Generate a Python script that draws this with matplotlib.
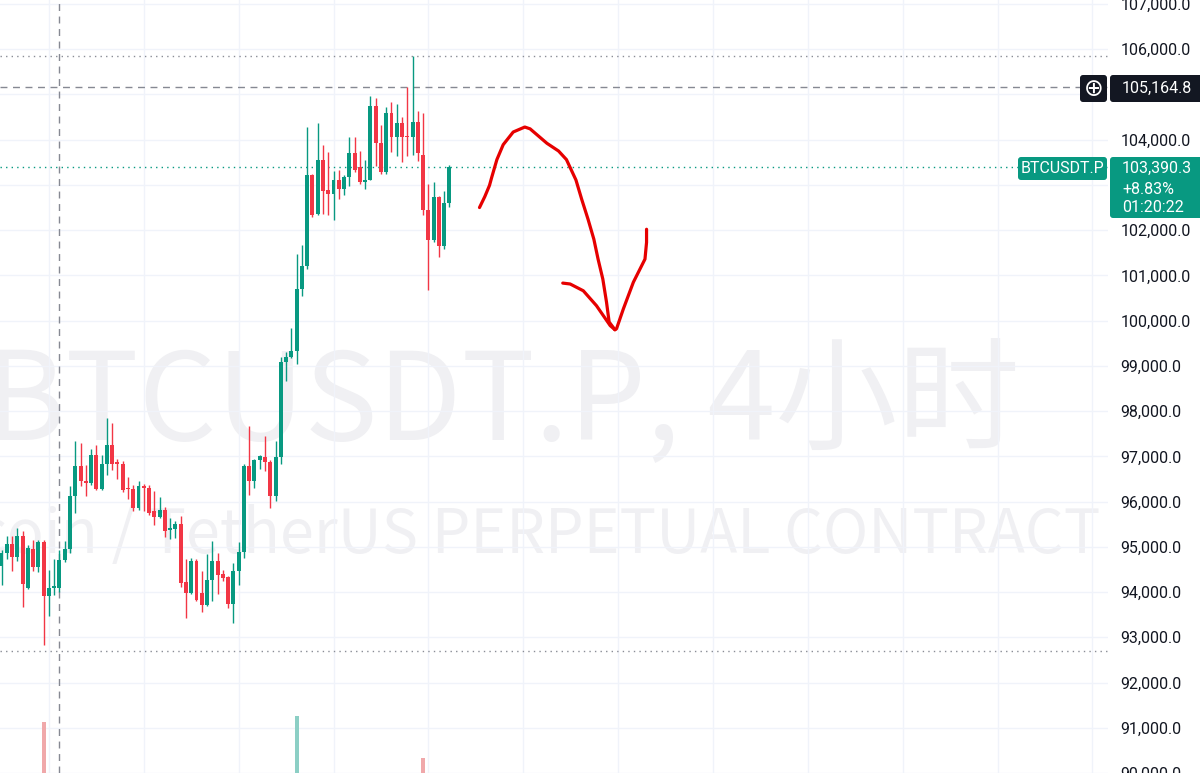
import numpy as np
import matplotlib
matplotlib.use('Agg')
import matplotlib.pyplot as plt
from matplotlib.patches import FancyBboxPatch
from matplotlib.transforms import IdentityTransform

# BTCUSDT.P 4h candles
opens = [94580, 94860, 95060, 94770, 95240, 94090, 94950, 94550, 95100, 93910,
         94090, 94090, 94710, 94950, 96120, 96780, 96450, 96400, 97020, 96270,
         96840, 97240, 96870, 96820, 96290, 96270, 95850, 96340, 96290, 95790,
         95650, 95810, 95370, 95390, 95500, 94220, 93980, 94690, 93980, 93720,
         94270, 94690, 94400, 94330, 93740, 94470, 94880, 96780, 96450, 96910,
         96980, 96870, 96120, 96980, 99090, 99200, 99330, 100700, 101210, 103210,
         102350, 103560, 102880, 102810, 103120, 102920, 103170, 103700, 103390, 103060,
         103120, 104750, 103920, 103280, 104600, 104070, 104360, 104070, 104050, 104400,
         103670, 102440, 101780, 102730, 101650, 102590]
highs = [94930, 95240, 95240, 95410, 95350, 95040, 95150, 95150, 95150, 94490,
         94730, 94930, 95130, 96340, 97350, 97290, 96800, 97170, 97240, 97020,
         97840, 97730, 96950, 96890, 96540, 96360, 96450, 96380, 96360, 96230,
         96100, 95880, 95630, 95570, 95680, 94730, 94750, 94730, 94470, 94840,
         95130, 94860, 94490, 94360, 94640, 95100, 96840, 97680, 96950, 97040,
         97440, 96910, 97330, 99200, 99310, 99840, 101470, 101670, 104290, 103250,
         104360, 103890, 103720, 103300, 103340, 103210, 104070, 104050, 103760, 103560,
         104970, 104930, 104330, 104730, 104840, 104780, 104510, 105170, 105850, 104640,
         104600, 103010, 103060, 102750, 102860, 103450]
lows = [94160, 94730, 94470, 94690, 93670, 94070, 94470, 94440, 92840, 93470,
        93940, 94000, 94660, 94860, 95740, 96340, 96120, 96360, 96250, 96250,
        96580, 96690, 96510, 96210, 96050, 95790, 95810, 95790, 95700, 95480,
        95630, 95210, 95170, 95190, 94110, 93430, 93960, 93800, 93560, 93690,
        93800, 93960, 94250, 93650, 93320, 94160, 94750, 96140, 96290, 96730,
        96670, 95850, 96010, 96820, 98670, 99180, 99050, 100550, 101150, 102300,
        102330, 102350, 102330, 102220, 102680, 102770, 102970, 103280, 103030, 102920,
        103100, 103410, 103250, 103250, 103720, 103650, 103500, 103650, 103670, 103540,
        102330, 100680, 101740, 101400, 101580, 102510]
closes = [94860, 95060, 94770, 95240, 94180, 94970, 94550, 95100, 93910, 94090,
          94130, 94710, 94950, 96120, 96780, 96450, 96400, 97020, 96270, 96840,
          97240, 96840, 96840, 96250, 96270, 95850, 96340, 96290, 95740, 95650,
          95810, 95350, 95410, 95500, 94200, 93980, 94690, 93830, 93720, 94270,
          94690, 94380, 94310, 93740, 94470, 94880, 96780, 96450, 96910, 97000,
          96870, 96120, 96980, 99090, 99200, 99330, 100700, 101210, 103210, 102330,
          103560, 102860, 102810, 103120, 102920, 103170, 103700, 103340, 103060, 103120,
          104750, 103920, 103280, 104600, 104070, 104360, 104050, 104050, 104400, 103700,
          102440, 101780, 102730, 101650, 102590, 103390.3]

# the few volume bars that reach into view (thousand BTC, estimated)
vol_bars = [8, 56, 80]
vol_vals = [68, 74, 32]

crosshair_bar = 11
crosshair_price = 105164.8
low_line = 92700
change_pct = "+8.83%"
countdown = "01:20:22"

# hand drawn red arrow (bar offset, price)
arrow_main_x = [90.7, 91.7, 92.6, 93.0, 94.0, 95.2, 97.1, 99.3, 100.3, 103.5, 105.7,
                107.2, 109.0, 110.1, 111.3, 112.4, 113.2, 114.1, 114.8, 115.3, 116.4]
arrow_main_p = [102500, 102740, 102990, 103160, 103560, 103890, 104170, 104280, 104240,
                103920, 103750, 103560, 103110, 102680, 102240, 101800, 101360, 100920,
                100410, 99970, 99800]
arrow_right_x = [116.4, 116.7, 118.0, 119.9, 122.1, 122.4, 122.4]
arrow_right_p = [99800, 99820, 100260, 100850, 101360, 101730, 102020]
arrow_left_x = [106.5, 107.9, 110.4, 112.9, 115.5, 116.4]
arrow_left_p = [100830, 100810, 100660, 100330, 99890, 99800]

UP, DOWN = '#089981', '#F23645'
W, H = 1200, 773

fig = plt.figure(figsize=(12, 7.73), dpi=100, facecolor='white')
ax = fig.add_axes([0, 0, 1108 / W, 1])
ax.set_facecolor('none')
for s in ax.spines.values():
    s.set_visible(False)

o = np.array(opens); c = np.array(closes)
hi = np.array(highs); lo = np.array(lows)
idx = np.arange(len(o))
col = np.where(c >= o, UP, DOWN)

ax.set_xlim(-0.285, 209.96)
ax.set_ylim(90061.7, 107088.1)

# grid
ax.set_yticks(np.arange(90000, 108000, 1000))
ax.set_xticks(np.arange(9, 210, 18))
ax.grid(True, color='#f0f3fa', lw=1, zorder=0)
ax.set_axisbelow(True)
ax.yaxis.tick_right()
ax.tick_params(axis='y', length=0, pad=9, labelsize=11.5, labelcolor='#131722')
ax.tick_params(axis='x', length=0, labelbottom=False)

# labels under the price boxes are hidden on the chart
covered = {105000, 103000}
ax.yaxis.set_major_formatter(matplotlib.ticker.FuncFormatter(
    lambda v, p: '' if round(v) in covered else f"{v:,.1f}"))
for t in ax.get_yticklabels():
    t.set_fontfamily('Roboto')

# watermark
fig.text(-15 / W, 1 - 440 / H, "BTCUSDT.P, 4小时", fontsize=88, color='#f0f0f3',
         family=['Noto Sans CJK SC', 'DejaVu Sans'], ha='left', va='baseline', zorder=-1)
fig.text(1100 / W, 1 - 553 / H, "Bitcoin / TetherUS PERPETUAL CONTRACT", fontsize=44,
         color='#f0f0f3', family=['Noto Sans CJK SC', 'DejaVu Sans'],
         ha='right', va='baseline', zorder=-1)

# reference lines
ax.axhline(max(highs), color='#8a8d96', lw=1, ls=(0, (1, 3)), zorder=1)
ax.axhline(low_line, color='#8a8d96', lw=1, ls=(0, (1, 3)), zorder=1)
ax.axhline(closes[-1], color=UP, lw=1, ls=(0, (1, 3)), zorder=1)
ax.axhline(crosshair_price, color='#868993', lw=1, ls=(0, (5, 4)), zorder=1)
ax.axvline(crosshair_bar, color='#868993', lw=1, ls=(0, (5, 4)), zorder=1)

# candles
ax.vlines(idx, lo, hi, colors=col, lw=1, zorder=2)
body = np.maximum(np.abs(c - o), 25)
ax.bar(idx, body, bottom=np.minimum(o, c), width=0.75, color=col, lw=0, zorder=3)

# volume
vax = fig.add_axes([0, 0, 1108 / W, 1], sharex=ax)
vax.set_ylim(17, 790)
vax.axis('off')
vax.patch.set_visible(False)
vcol = ['#f0a8aa' if c[i] < o[i] else '#8ccfc5' for i in vol_bars]
vax.bar(vol_bars, vol_vals, width=0.75, color=vcol, lw=0)

# arrow drawing
for xs, ps in [(arrow_main_x, arrow_main_p), (arrow_right_x, arrow_right_p),
               (arrow_left_x, arrow_left_p)]:
    ax.plot(xs, ps, color='#e60000', lw=2.3, solid_capstyle='round',
            solid_joinstyle='round', zorder=6)


def box(x0, y0, x1, y1, color, r=3):
    p = FancyBboxPatch((x0, H - y1), x1 - x0, y1 - y0,
                       boxstyle=f"round,pad=0,rounding_size={r}",
                       fc=color, ec='none', transform=IdentityTransform(), zorder=10)
    fig.add_artist(p)


def label(x, y, s, color='white', ha='left', size=11.5):
    fig.text(x / W, 1 - y / H, s, color=color, ha=ha, va='center',
             fontsize=size, family='Roboto', zorder=11)


# crosshair price label
box(1080, 75, 1107, 102, '#131722')
fig.text(1093.5 / W, 1 - 88.5 / H, '⊕', color='white', ha='center', va='center',
         fontsize=17, family='DejaVu Sans', zorder=11)
box(1110, 75, 1203, 102, '#131722')
label(1122, 88.5, f"{crosshair_price:,.1f}")

# last price labels
box(1018, 157, 1107, 180, UP)
label(1062.5, 168.5, "BTCUSDT.P", ha='center')
box(1110, 157, 1203, 218, UP)
label(1122, 168.5, f"{closes[-1]:,.1f}")
label(1122, 189, change_pct)
label(1122, 208, countdown)

fig.savefig('out.png', dpi=100, facecolor='white')
